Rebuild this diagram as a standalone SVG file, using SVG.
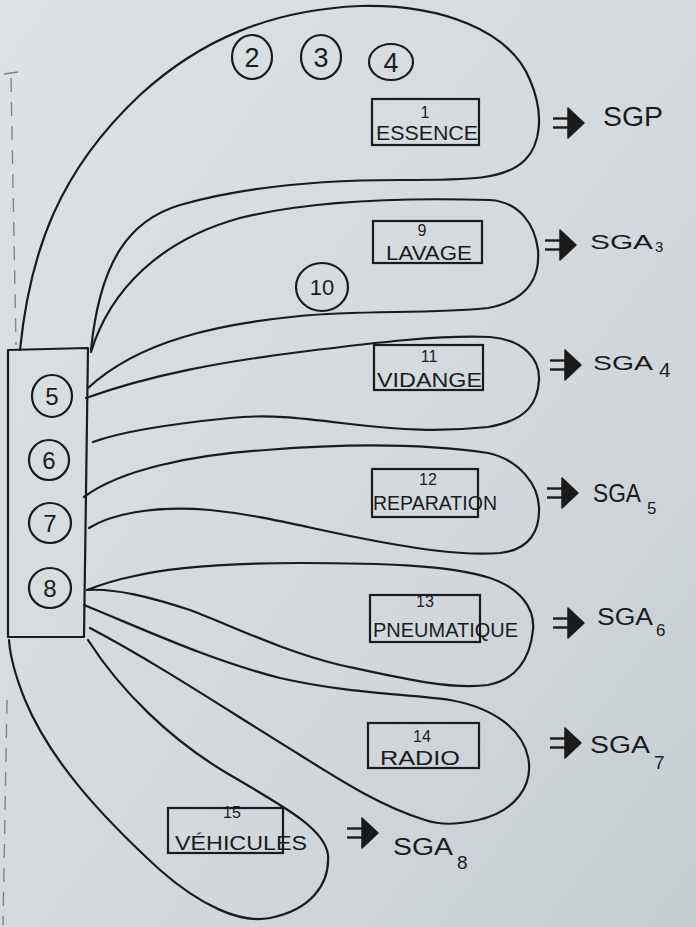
<svg xmlns="http://www.w3.org/2000/svg" width="696" height="927" viewBox="0 0 696 927">
<defs>
<linearGradient id="paper" x1="0" y1="0" x2="1" y2="1">
<stop offset="0" stop-color="#dde2e4"/>
<stop offset="0.6" stop-color="#d2d8db"/>
<stop offset="1" stop-color="#c6cdd1"/>
</linearGradient>
<g id="imp">
<line x1="0" y1="-4.5" x2="16" y2="-4.5"/>
<line x1="0" y1="4.5" x2="16" y2="4.5"/>
<polygon points="15,-15 31,0 15,15" class="head"/>
</g>
</defs>
<style>
.ln{fill:none;stroke:#1b1b1b;stroke-width:2.2;stroke-linecap:round;stroke-linejoin:round}
.box{fill:none;stroke:#1b1b1b;stroke-width:2.2}
.cir{fill:none;stroke:#1b1b1b;stroke-width:2.2}
.t{font-family:"Liberation Sans","DejaVu Sans",sans-serif;fill:#1b1b1b}
.num{font-size:27px;text-anchor:middle}
.bn{font-size:16px;text-anchor:middle}
.bl{font-size:20px}
.sub{font-size:17px}
.arr{stroke:#1b1b1b;stroke-width:2.4;fill:#1b1b1b}
.head{fill:#1b1b1b;stroke:#1b1b1b;stroke-width:1.5;stroke-linejoin:round}
.margin{fill:none;stroke:#3a3a3a;stroke-width:1.4;stroke-dasharray:14 10;opacity:0.55}
</style>
<rect x="0" y="0" width="696" height="927" fill="url(#paper)"/>
<g id="margin">
<path class="margin" d="M11,78 L16,345"/>
<path class="margin" d="M7,700 L3,925"/>
<path d="M4,74 L18,72" stroke="#3a3a3a" stroke-width="1.4" opacity="0.55"/>
</g>

<g id="connectors">
<path id="loop-essence" class="ln" d="M20,350 C30,250 60,170 140,95 C200,40 270,10 360,6 C440,4 510,30 530,80 C545,115 540,145 525,160 C505,180 470,180 400,180 C330,180 250,185 180,205 C130,220 100,260 91,350"/>
<path id="loop-lavage" class="ln" d="M91,352 C110,290 160,240 240,218 C320,198 420,198 490,200 C520,202 535,225 538,250 C540,275 530,300 488,308 C430,314 360,310 300,316 C220,324 140,340 88,388"/>
<path id="loop-vidange" class="ln" d="M86,398 C150,375 220,362 300,352 C380,342 440,335 490,337 C525,340 540,360 539,380 C538,400 530,420 488,427 C440,432 400,430 350,424 C300,418 270,414 230,418 C170,424 120,432 93,442"/>
<path id="loop-reparation" class="ln" d="M84,497 C120,470 190,455 266,450 C340,444 420,443 488,453 C520,460 538,485 539,507 C540,530 530,550 500,553 C460,556 410,548 355,537 C300,526 260,515 210,510 C150,505 110,515 89,528"/>
<path id="loop-pneumatique" class="ln" d="M87,590 C100,585 115,580 130,577 C170,567 230,563 300,563 C380,563 450,565 490,578 C520,588 535,608 533,630 C530,660 515,680 488,685 C450,690 400,678 340,665 C280,650 230,625 190,610 C150,597 115,588 87,590"/>
<path id="loop-radio" class="ln" d="M84,605 C150,632 210,660 280,678 C350,694 410,694 450,700 C495,708 522,730 528,757 C534,785 515,812 478,820 C455,825 440,825 425,820 C380,806 340,780 300,755 C230,712 160,665 90,628"/>
<path id="loop-vehicules" class="ln" d="M88,640 C120,690 170,740 230,775 C290,810 325,830 328,855 C330,885 310,910 270,918 C240,924 200,905 160,870 C100,815 50,760 25,700 C15,675 10,655 9,640"/>
<use href="#imp" class="arr" x="553" y="123"/>
<use href="#imp" class="arr" x="545" y="245"/>
<use href="#imp" class="arr" x="550" y="365"/>
<use href="#imp" class="arr" x="547" y="493"/>
<use href="#imp" class="arr" x="553" y="623"/>
<use href="#imp" class="arr" x="550" y="743"/>
<use href="#imp" class="arr" x="347" y="833"/>
</g>

<g id="column">
<path class="ln" d="M8,350 L88,348 L84,637 L8,637 Z"/>
</g>
<g id="n5"><ellipse class="cir" cx="52" cy="396" rx="20" ry="21"/><text class="t" x="52" y="405" font-size="24" text-anchor="middle">5</text></g>
<g id="n6"><ellipse class="cir" cx="49" cy="460" rx="20" ry="20"/><text class="t" x="49" y="469" font-size="24" text-anchor="middle">6</text></g>
<g id="n7"><ellipse class="cir" cx="50" cy="523" rx="21" ry="20"/><text class="t" x="50" y="532" font-size="24" text-anchor="middle">7</text></g>
<g id="n8"><ellipse class="cir" cx="50" cy="588" rx="21" ry="20"/><text class="t" x="50" y="597" font-size="24" text-anchor="middle">8</text></g>

<g id="n2"><ellipse class="cir" cx="252" cy="57" rx="20" ry="22"/><text class="t num" x="252" y="67">2</text></g>
<g id="n3"><ellipse class="cir" cx="321" cy="57" rx="20" ry="22"/><text class="t num" x="321" y="67">3</text></g>
<g id="n4"><ellipse class="cir" cx="391" cy="62" rx="22" ry="18"/><text class="t num" x="391" y="72">4</text></g>
<g id="n10"><ellipse class="cir" cx="322" cy="287" rx="26" ry="24"/><text class="t" x="322" y="295" font-size="22" text-anchor="middle">10</text></g>

<g id="n1"><rect class="box" x="372" y="99" width="107" height="46"/><text class="t bn" x="425" y="118">1</text><text class="t bl" x="376" y="140" textLength="102" lengthAdjust="spacingAndGlyphs">ESSENCE</text></g>
<g id="n9"><rect class="box" x="373" y="221" width="109" height="42"/><text class="t bn" x="422" y="236">9</text><text class="t bl" x="386" y="260" font-size="18" textLength="86" lengthAdjust="spacingAndGlyphs">LAVAGE</text></g>
<g id="n11"><rect class="box" x="374" y="345" width="109" height="45"/><text class="t bn" x="429" y="362">11</text><text class="t bl" x="377" y="387" textLength="105" lengthAdjust="spacingAndGlyphs">VIDANGE</text></g>
<g id="n12"><rect class="box" x="372" y="469" width="106" height="48"/><text class="t bn" x="428" y="485">12</text><text class="t bl" x="373" y="510" textLength="124" lengthAdjust="spacingAndGlyphs">REPARATION</text></g>
<g id="n13"><rect class="box" x="370" y="595" width="110" height="47"/><text class="t bn" x="425" y="607">13</text><text class="t bl" x="373" y="637" textLength="145" lengthAdjust="spacingAndGlyphs">PNEUMATIQUE</text></g>
<g id="n14"><rect class="box" x="368" y="723" width="111" height="45"/><text class="t bn" x="422" y="742">14</text><text class="t bl" x="380" y="765" textLength="80" lengthAdjust="spacingAndGlyphs">RADIO</text></g>
<g id="n15"><rect class="box" x="168" y="808" width="115" height="45"/><text class="t bn" x="232" y="818">15</text><text class="t bl" x="175" y="850" textLength="132" lengthAdjust="spacingAndGlyphs">VÉHICULES</text></g>

<g id="sgp"><text class="t" x="603" y="126" font-size="27" textLength="60" lengthAdjust="spacingAndGlyphs">SGP</text></g>
<g id="sga3"><text class="t" x="590" y="249" font-size="21" textLength="63" lengthAdjust="spacingAndGlyphs">SGA</text><text class="t" x="655" y="252" font-size="15">3</text></g>
<g id="sga4"><text class="t" x="593" y="370" font-size="21" textLength="60" lengthAdjust="spacingAndGlyphs">SGA</text><text class="t" x="659" y="377" font-size="21">4</text></g>
<g id="sga5"><text class="t" x="593" y="502" font-size="25" textLength="48" lengthAdjust="spacingAndGlyphs">SGA</text><text class="t sub" x="647" y="514">5</text></g>
<g id="sga6"><text class="t" x="597" y="625" font-size="23" textLength="56" lengthAdjust="spacingAndGlyphs">SGA</text><text class="t sub" x="656" y="636">6</text></g>
<g id="sga7"><text class="t" x="590" y="753" font-size="23" textLength="60" lengthAdjust="spacingAndGlyphs">SGA</text><text class="t" x="654" y="769" font-size="19">7</text></g>
<g id="sga8"><text class="t" x="393" y="855" font-size="23" textLength="60" lengthAdjust="spacingAndGlyphs">SGA</text><text class="t" x="457" y="869" font-size="19">8</text></g>
</svg>
